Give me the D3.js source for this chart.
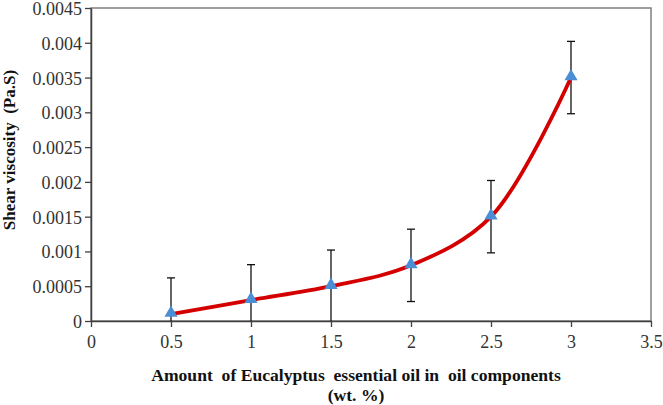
<!DOCTYPE html>
<html><head><meta charset="utf-8">
<script src="https://cdn.jsdelivr.net/npm/d3@7"></script>
<style>body{margin:0;background:#fff;}svg{display:block;}</style>
</head><body>
<svg id="chart" width="663" height="405"></svg>
<script>
const xValues = [0.5, 1, 1.5, 2, 2.5, 3];
const viscosity = [0.0001, 0.0003, 0.0005, 0.0008, 0.0015, 0.0035];
const errors = [0.00052, 0.00051, 0.00052, 0.00052, 0.00052, 0.00052];
const xTicks = [0, 0.5, 1, 1.5, 2, 2.5, 3, 3.5];
const yTicks = [0, 0.0005, 0.001, 0.0015, 0.002, 0.0025, 0.003, 0.0035, 0.004, 0.0045];
const xTitle1 = "Amount  of Eucalyptus  essential oil in  oil components";
const xTitle2 = "(wt. %)";
const yTitle = "Shear viscosity  (Pa.S)";

const FONT = '"Liberation Serif"';
const svg = d3.select("#chart");
const m = {left: 91, right: 651, top: 8, bottom: 321};
const x = d3.scaleLinear().domain([0, 3.5]).range([m.left, m.right]);
const y = d3.scaleLinear().domain([0, 0.0045]).range([m.bottom, m.top]);

svg.append("rect").attr("x", m.left).attr("y", m.top).attr("width", m.right - m.left)
  .attr("height", m.bottom - m.top).attr("fill", "none").attr("stroke", "#7f7f7f").attr("stroke-width", 1.5);

const xAxis = svg.append("g").attr("transform", `translate(0,${m.bottom})`)
  .call(d3.axisBottom(x).tickValues(xTicks).tickSize(6).tickSizeOuter(0).tickFormat(d3.format("")));
const yAxis = svg.append("g").attr("transform", `translate(${m.left},0)`)
  .call(d3.axisLeft(y).tickValues(yTicks).tickSize(6).tickSizeOuter(0).tickFormat(d => d === 0 ? "0" : String(+d.toFixed(4))));
[xAxis, yAxis].forEach(a => {
  a.style("font-family", FONT).attr("font-size", 18);
  a.select(".domain").attr("stroke", "#404040").attr("stroke-width", 1.5);
  a.selectAll(".tick line").attr("stroke", "#404040").attr("stroke-width", 1.3);
  a.selectAll("text").style("font-family", FONT).attr("font-size", 18).attr("fill", "#333");
});
xAxis.selectAll("text").attr("dy", "1.0em");
yAxis.selectAll("text").attr("x", -9).attr("dy", "0.36em");

const eb = svg.append("g");
xValues.forEach((xv, i) => {
  const lo = Math.max(0, viscosity[i] - errors[i]);
  const hi = viscosity[i] + errors[i];
  eb.append("line").attr("x1", x(xv)).attr("x2", x(xv)).attr("y1", y(lo)).attr("y2", y(hi))
    .attr("stroke", "#111").attr("stroke-width", 1.3);
  eb.append("line").attr("x1", x(xv) - 4).attr("x2", x(xv) + 4).attr("y1", y(hi)).attr("y2", y(hi))
    .attr("stroke", "#111").attr("stroke-width", 1.3);
  if (viscosity[i] - errors[i] > 0)
    eb.append("line").attr("x1", x(xv) - 4).attr("x2", x(xv) + 4).attr("y1", y(lo)).attr("y2", y(lo))
      .attr("stroke", "#111").attr("stroke-width", 1.3);
});

const pts = xValues.map((d, i) => [d, viscosity[i]]);
svg.append("path").datum(pts)
  .attr("d", d3.line().x(d => x(d[0])).y(d => y(d[1])).curve(d3.curveCatmullRom.alpha(0.5)))
  .attr("fill", "none").attr("stroke", "#d40000").attr("stroke-width", 3.8);

svg.append("g").selectAll("path").data(pts).join("path")
  .attr("transform", d => `translate(${x(d[0])},${y(d[1]) - 1})`)
  .attr("d", d3.symbol().type(d3.symbolTriangle).size(75))
  .attr("fill", "#4a8fd6");

svg.append("text").attr("x", 356).attr("y", 381).attr("text-anchor", "middle")
  .style("font-family", FONT).attr("font-weight", "bold").attr("font-size", 17.6).attr("fill", "#111")
  .style("white-space", "pre").text(xTitle1);
svg.append("text").attr("x", 356).attr("y", 401).attr("text-anchor", "middle")
  .style("font-family", FONT).attr("font-weight", "bold").attr("font-size", 17.6).attr("fill", "#111")
  .style("white-space", "pre").text(xTitle2);
svg.append("text").attr("transform", "translate(15,150) rotate(-90)").attr("text-anchor", "middle")
  .style("font-family", FONT).attr("font-weight", "bold").attr("font-size", 17).attr("fill", "#111")
  .style("white-space", "pre").text(yTitle);
</script>
</body></html>
